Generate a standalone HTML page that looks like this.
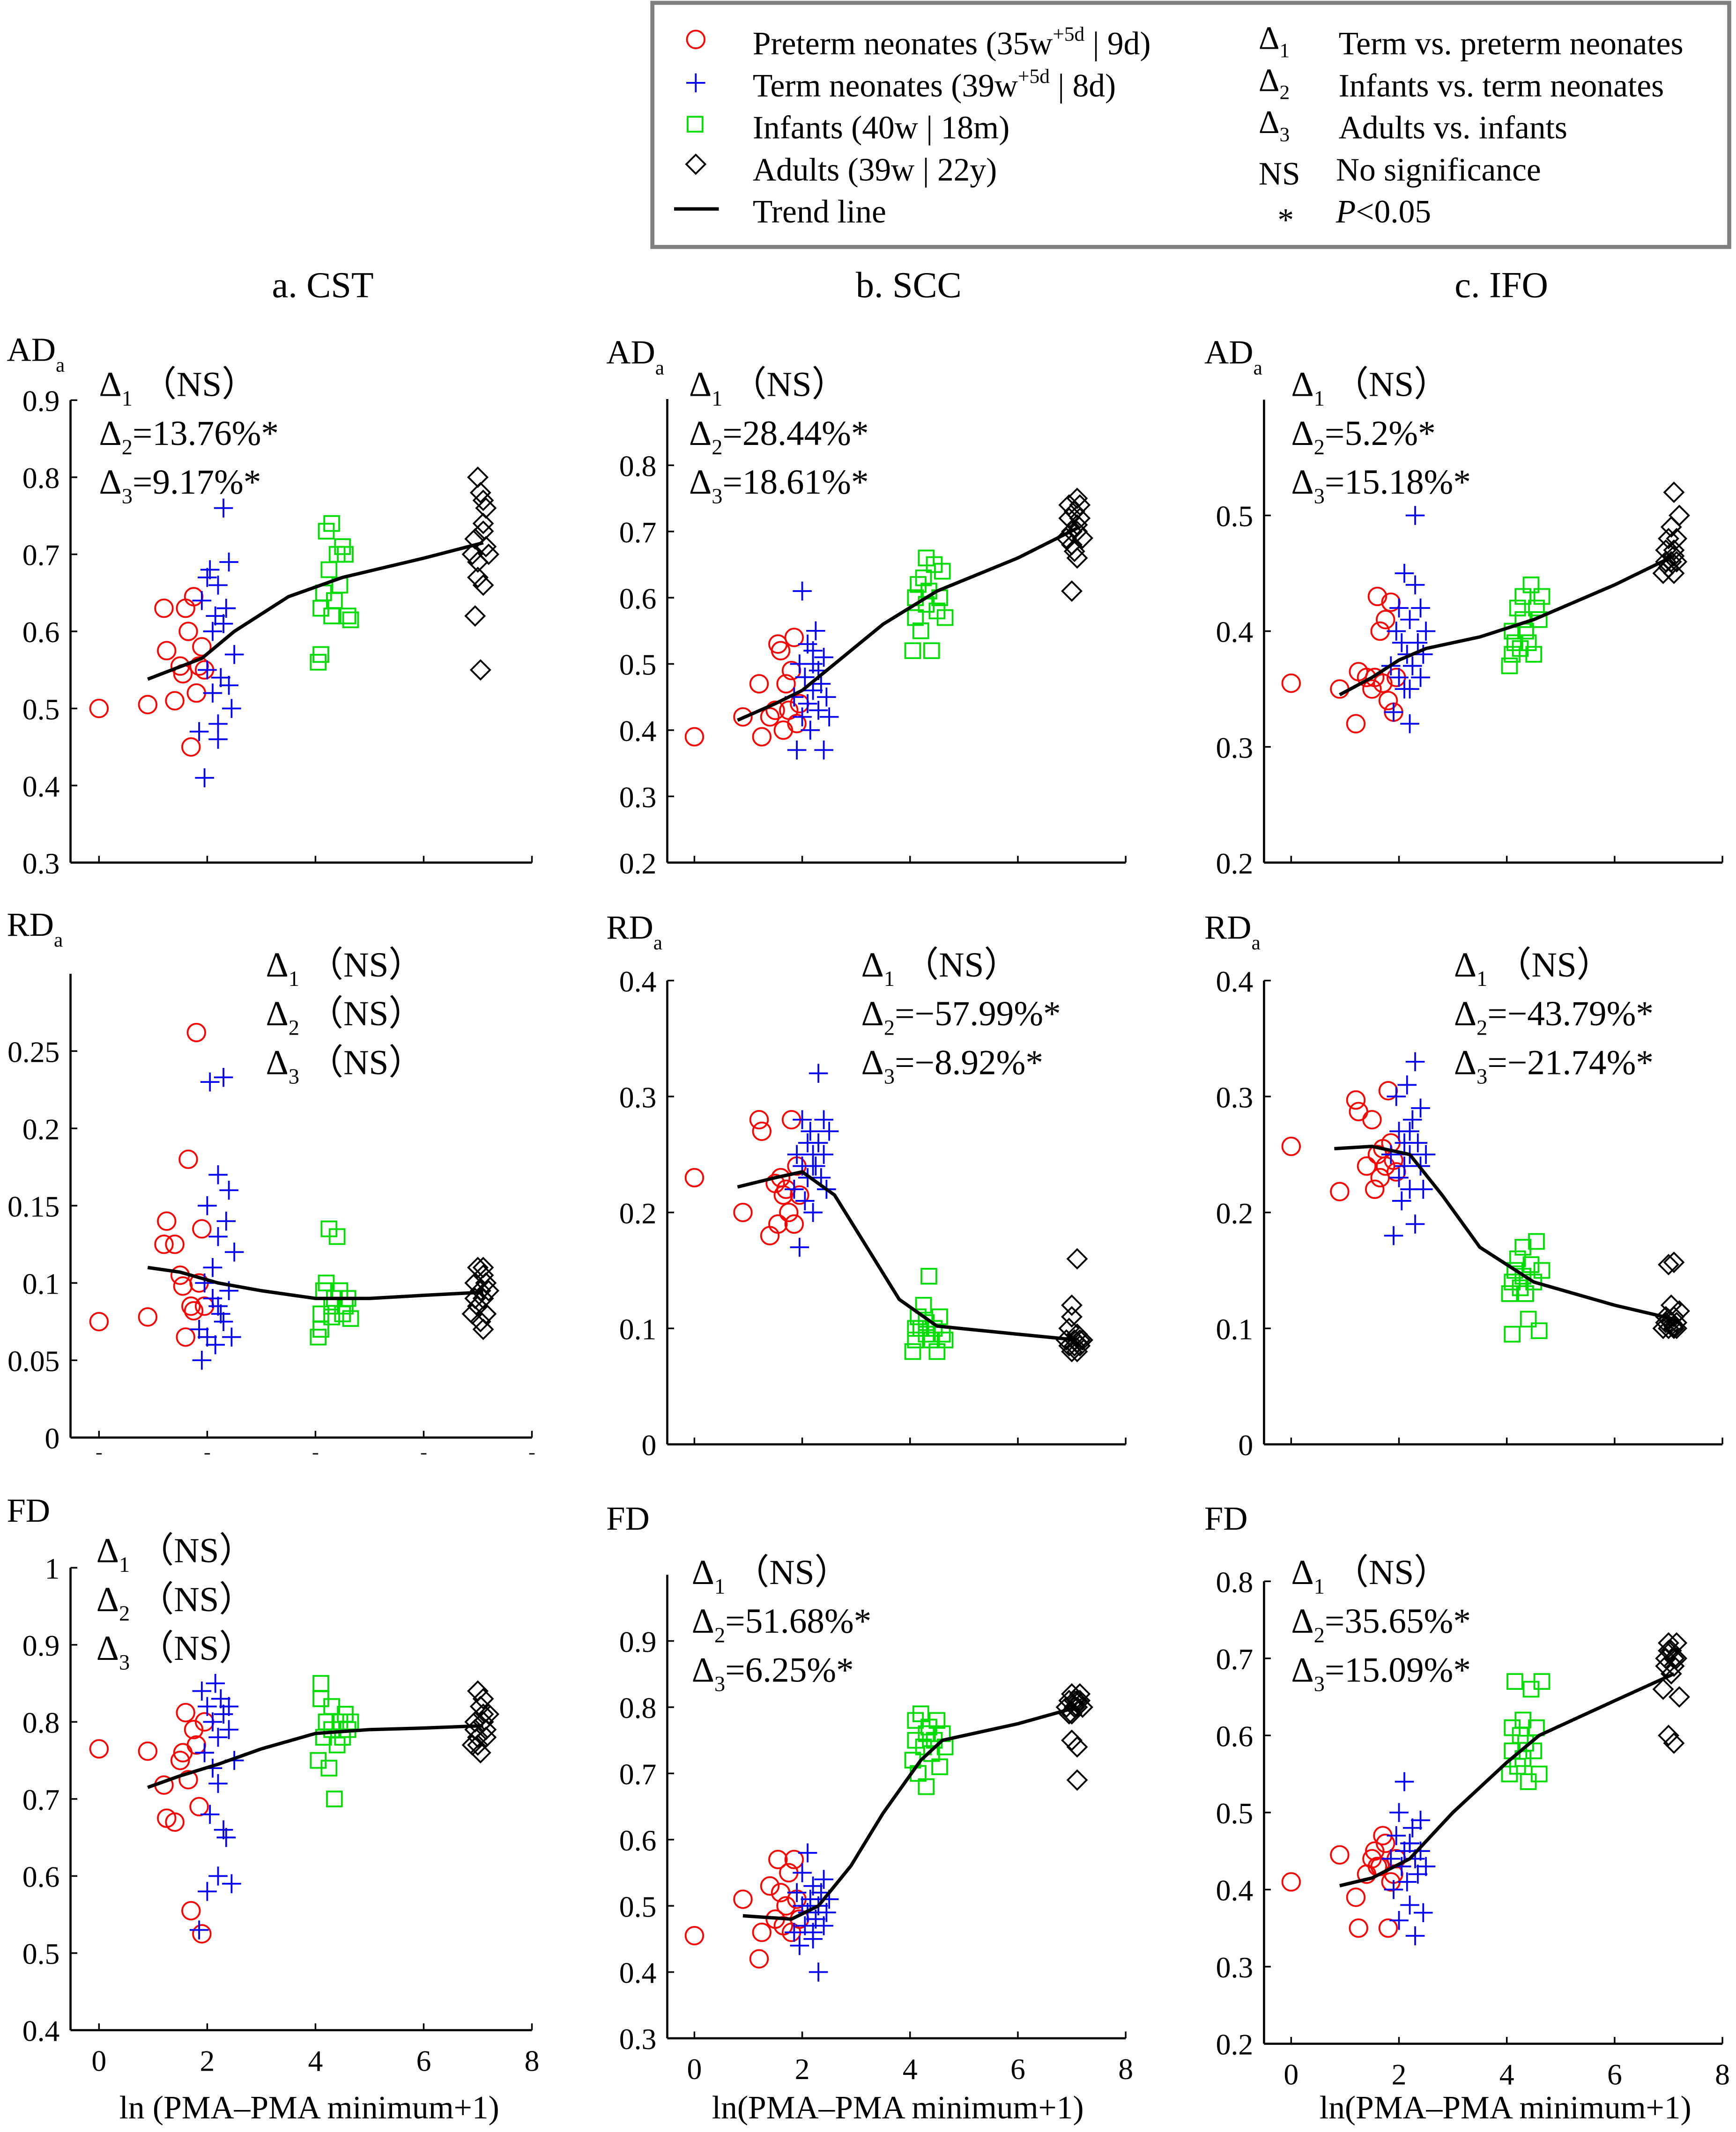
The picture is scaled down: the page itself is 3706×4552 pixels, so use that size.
<!DOCTYPE html>
<html><head><meta charset="utf-8"><style>
html,body{margin:0;padding:0;background:#fff}
svg{display:block}
text{font-family:"Liberation Serif",serif;fill:#000}
</style></head><body>
<svg id="fig" width="3706" height="4552" viewBox="0 0 1280 1572" xmlns="http://www.w3.org/2000/svg">
<g>
<rect x="481" y="2" width="794" height="180" fill="#fff" stroke="#808080" stroke-width="3"/>
<circle cx="513" cy="29" r="6.5" fill="none" stroke="#ff0000" stroke-width="1.3"/>
<path d="M506 61h14M513 54v14" stroke="#0000ff" stroke-width="1.3"/>
<rect x="507" y="86" width="11" height="11" fill="none" stroke="#00dd00" stroke-width="1.3"/>
<path d="M513 114l7 7l-7 7l-7-7z" fill="none" stroke="#000" stroke-width="1.3"/>
<path d="M497 154h33" stroke="#000" stroke-width="2.5"/>
<text x="555" y="40" font-size="24">Preterm neonates (35w<tspan dy="-10" font-size="15">+5d</tspan><tspan dy="10"> | 9d)</tspan></text>
<text x="555" y="71" font-size="24">Term neonates (39w<tspan dy="-10" font-size="15">+5d</tspan><tspan dy="10"> | 8d)</tspan></text>
<text x="555" y="102" font-size="24">Infants (40w | 18m)</text>
<text x="555" y="133" font-size="24">Adults (39w | 22y)</text>
<text x="555" y="164" font-size="24">Trend line</text>
<text x="928" y="36" font-size="24">Δ<tspan dy="6" font-size="15">1</tspan></text>
<text x="928" y="67" font-size="24">Δ<tspan dy="6" font-size="15">2</tspan></text>
<text x="928" y="98" font-size="24">Δ<tspan dy="6" font-size="15">3</tspan></text>
<text x="928" y="136" font-size="24">NS</text>
<text x="942" y="170" font-size="24">*</text>
<text x="987" y="40" font-size="24">Term vs. preterm neonates</text>
<text x="987" y="71" font-size="24">Infants vs. term neonates</text>
<text x="987" y="102" font-size="24">Adults vs. infants</text>
<text x="985" y="133" font-size="24">No significance</text>
<text x="985" y="164" font-size="24"><tspan font-style="italic">P</tspan>&lt;0.05</text>
</g>
<text x="238" y="219" font-size="27" text-anchor="middle">a. CST</text>
<text x="670" y="219" font-size="27" text-anchor="middle">b. SCC</text>
<text x="1107" y="219" font-size="27" text-anchor="middle">c. IFO</text>
<g id="plots"></g>
</svg>
<script>
const preX=[0,0.9,1.2,1.25,1.4,1.5,1.55,1.6,1.65,1.7,1.75,1.8,1.85,1.9,1.95];
const termX=[1.85,1.9,1.95,2.0,2.0,2.05,2.1,2.1,2.15,2.2,2.2,2.25,2.3,2.3,2.35,2.4,2.4,2.45,2.5,2.2];
const infX=[4.05,4.1,4.1,4.15,4.2,4.25,4.3,4.3,4.35,4.4,4.45,4.5,4.55,4.6,4.65];
const adX=[6.9,6.95,6.95,7.0,7.0,7.05,7.05,7.1,7.1,7.1,7.15,7.15,7.2,7.0,7.1];

const cstAD_pre=[0.50,0.505,0.63,0.575,0.51,0.555,0.545,0.63,0.60,0.45,0.645,0.52,0.555,0.58,0.55];
const cstAD_term=[0.47,0.64,0.41,0.67,0.55,0.68,0.52,0.60,0.62,0.46,0.66,0.54,0.76,0.61,0.63,0.53,0.69,0.50,0.57,0.48];
const cstAD_inf=[0.56,0.57,0.63,0.65,0.73,0.68,0.74,0.62,0.64,0.70,0.66,0.71,0.70,0.62,0.615];
const cstAD_ad=[0.70,0.72,0.62,0.80,0.69,0.78,0.55,0.77,0.74,0.66,0.76,0.71,0.70,0.67,0.73];
const cstAD_trendX=[0.9,1.9,2.5,3.5,4.5,6,7.1];
const cstAD_trendY=[0.538,0.565,0.6,0.645,0.67,0.695,0.715];

const sccAD_pre=[0.39,0.42,0.47,0.39,0.42,0.43,0.53,0.52,0.40,0.47,0.43,0.49,0.54,0.41,0.44];
const sccAD_term=[0.45,0.37,0.50,0.42,0.61,0.48,0.44,0.53,0.40,0.46,0.52,0.55,0.43,0.49,0.47,0.37,0.51,0.45,0.42,0.50];
const sccAD_inf=[0.52,0.60,0.57,0.62,0.55,0.63,0.59,0.66,0.61,0.52,0.65,0.58,0.60,0.64,0.57];
const sccAD_ad=[0.69,0.72,0.74,0.61,0.70,0.73,0.67,0.75,0.71,0.66,0.74,0.72,0.69,0.68,0.70];
const sccAD_trendX=[0.8,1.5,2,2.6,3.5,4.5,6,7.1];
const sccAD_trendY=[0.415,0.44,0.46,0.5,0.56,0.61,0.66,0.705];

const ifoAD_pre=[0.355,0.35,0.32,0.365,0.36,0.35,0.36,0.43,0.40,0.355,0.41,0.34,0.425,0.33,0.36];
const ifoAD_term=[0.37,0.33,0.40,0.36,0.42,0.39,0.35,0.45,0.38,0.41,0.32,0.37,0.50,0.44,0.39,0.36,0.42,0.38,0.40,0.35];
const ifoAD_inf=[0.37,0.38,0.40,0.39,0.42,0.385,0.41,0.43,0.40,0.39,0.44,0.38,0.42,0.41,0.43];
const ifoAD_ad=[0.45,0.46,0.47,0.455,0.48,0.46,0.49,0.45,0.47,0.52,0.46,0.48,0.50,0.455,0.465];
const ifoAD_trendX=[0.9,1.5,2,2.5,3.5,4.5,6,7.1];
const ifoAD_trendY=[0.345,0.36,0.375,0.385,0.395,0.41,0.44,0.465];

const cstRD_pre=[0.075,0.078,0.125,0.14,0.125,0.105,0.098,0.065,0.18,0.085,0.082,0.262,0.1,0.135,0.085];
const cstRD_term=[0.07,0.05,0.10,0.15,0.065,0.23,0.09,0.11,0.06,0.13,0.17,0.08,0.233,0.075,0.14,0.095,0.16,0.065,0.12,0.085];
const cstRD_inf=[0.065,0.07,0.08,0.095,0.1,0.135,0.085,0.078,0.09,0.13,0.095,0.08,0.085,0.09,0.077];
const cstRD_ad=[0.08,0.09,0.1,0.085,0.11,0.075,0.095,0.07,0.105,0.09,0.1,0.08,0.095,0.085,0.11];
const cstRD_trendX=[0.9,1.5,2.2,3,4,5,6,7.1];
const cstRD_trendY=[0.11,0.107,0.1,0.095,0.09,0.09,0.092,0.094];

const sccRD_pre=[0.23,0.20,0.28,0.27,0.18,0.225,0.19,0.23,0.215,0.22,0.20,0.28,0.19,0.24,0.215];
const sccRD_term=[0.22,0.25,0.17,0.24,0.28,0.21,0.26,0.23,0.27,0.25,0.20,0.24,0.32,0.26,0.23,0.28,0.25,0.22,0.27,0.24];
const sccRD_inf=[0.08,0.10,0.09,0.11,0.10,0.12,0.095,0.105,0.145,0.09,0.10,0.08,0.11,0.095,0.09];
const sccRD_ad=[0.09,0.085,0.1,0.08,0.12,0.09,0.085,0.16,0.095,0.08,0.09,0.085,0.09,0.11,0.088];
const sccRD_trendX=[0.8,1.5,2,2.6,3.2,3.8,4.5,6,7.1];
const sccRD_trendY=[0.222,0.23,0.235,0.215,0.17,0.125,0.102,0.095,0.09];

const ifoRD_pre=[0.257,0.218,0.297,0.287,0.24,0.28,0.22,0.25,0.23,0.255,0.24,0.305,0.26,0.245,0.235];
const ifoRD_term=[0.25,0.18,0.30,0.23,0.27,0.21,0.26,0.24,0.31,0.22,0.25,0.28,0.33,0.19,0.26,0.24,0.29,0.22,0.25,0.27];
const ifoRD_inf=[0.13,0.095,0.14,0.15,0.16,0.135,0.145,0.17,0.13,0.108,0.155,0.14,0.175,0.098,0.15];
const ifoRD_ad=[0.1,0.105,0.11,0.1,0.155,0.105,0.12,0.1,0.11,0.157,0.105,0.1,0.115,0.108,0.102];
const ifoRD_trendX=[0.8,1.5,2.2,2.8,3.5,4.5,6,7.1];
const ifoRD_trendY=[0.255,0.257,0.25,0.215,0.17,0.14,0.12,0.108];

const cstFD_pre=[0.765,0.762,0.718,0.675,0.67,0.75,0.76,0.812,0.725,0.555,0.79,0.77,0.69,0.525,0.8];
const cstFD_term=[0.53,0.84,0.76,0.58,0.82,0.68,0.80,0.74,0.85,0.60,0.78,0.83,0.66,0.81,0.65,0.79,0.82,0.59,0.75,0.72];
const cstFD_inf=[0.75,0.83,0.85,0.78,0.80,0.74,0.82,0.79,0.70,0.77,0.80,0.78,0.81,0.79,0.80];
const cstFD_ad=[0.77,0.79,0.80,0.84,0.78,0.82,0.76,0.81,0.80,0.83,0.79,0.78,0.81,0.77,0.80];
const cstFD_trendX=[0.9,1.5,2.2,3,4,5,6,7.1];
const cstFD_trendY=[0.715,0.73,0.745,0.765,0.785,0.79,0.792,0.795];

const sccFD_pre=[0.455,0.51,0.42,0.46,0.53,0.48,0.57,0.52,0.47,0.50,0.55,0.46,0.57,0.51,0.48];
const sccFD_term=[0.46,0.52,0.44,0.50,0.55,0.47,0.49,0.58,0.51,0.45,0.53,0.48,0.50,0.40,0.52,0.47,0.54,0.49,0.51,0.46];
const sccFD_inf=[0.72,0.75,0.78,0.70,0.79,0.74,0.76,0.68,0.77,0.73,0.75,0.78,0.71,0.76,0.74];
const sccFD_ad=[0.80,0.81,0.79,0.82,0.75,0.80,0.81,0.69,0.80,0.74,0.82,0.81,0.80,0.79,0.81];
const sccFD_trendX=[0.9,1.8,2.3,2.9,3.5,4.2,4.6,6,7.1];
const sccFD_trendY=[0.485,0.48,0.5,0.56,0.64,0.72,0.75,0.775,0.8];

const ifoFD_pre=[0.41,0.445,0.39,0.35,0.42,0.44,0.45,0.43,0.43,0.47,0.46,0.35,0.41,0.42,0.44];
const ifoFD_term=[0.44,0.40,0.47,0.36,0.50,0.43,0.45,0.54,0.41,0.46,0.38,0.48,0.34,0.44,0.42,0.49,0.45,0.37,0.43,0.46];
const ifoFD_inf=[0.55,0.58,0.61,0.67,0.56,0.60,0.57,0.62,0.59,0.54,0.66,0.58,0.61,0.55,0.67];
const ifoFD_ad=[0.66,0.69,0.70,0.72,0.60,0.68,0.71,0.59,0.70,0.69,0.72,0.70,0.65,0.71,0.69];
const ifoFD_trendX=[0.9,1.5,2.2,3,4,4.6,6,7.1];
const ifoFD_trendY=[0.405,0.415,0.44,0.5,0.565,0.6,0.645,0.68];

const xTicks=[0,2,4,6,8];
const tickAD_cst=["0.3","0.4","0.5","0.6","0.7","0.8","0.9"];
const tickAD_scc=["0.2","0.3","0.4","0.5","0.6","0.7","0.8"];
const tickAD_ifo=["0.2","0.3","0.4","0.5"];
const tickRD_cst=["0","0.05","0.1","0.15","0.2","0.25"];
const tickRD_scc=["0","0.1","0.2","0.3","0.4"];
const tickFD_cst=["0.4","0.5","0.6","0.7","0.8","0.9","1"];
const tickFD_scc=["0.3","0.4","0.5","0.6","0.7","0.8","0.9"];
const tickFD_ifo=["0.2","0.3","0.4","0.5","0.6","0.7","0.8"];

const NS="http://www.w3.org/2000/svg";
const root=document.getElementById('plots');
function mk(tag,attrs,parent){const e=document.createElementNS(NS,tag);for(const k in attrs)e.setAttribute(k,attrs[k]);parent.appendChild(e);return e;}

const panels=[
 {id:'cst-ad',ax:52,x0:73,pux:39.9,yb:636,vmin:0.3,y1:295,v1:0.9,top:0.9,ticks:tickAD_cst,d:[cstAD_pre,cstAD_term,cstAD_inf,cstAD_ad],tx:cstAD_trendX,ty:cstAD_trendY,lab:['AD','a'],lx:5,ly:266,ann:['(NS)','=13.76%*','=9.17%*'],annX:73,annY:292,xl:false},
 {id:'scc-ad',ax:492,x0:512,pux:39.75,yb:636,vmin:0.2,y1:343,v1:0.8,top:0.9,ticks:tickAD_scc,d:[sccAD_pre,sccAD_term,sccAD_inf,sccAD_ad],tx:sccAD_trendX,ty:sccAD_trendY,lab:['AD','a'],lx:447,ly:268,ann:['(NS)','=28.44%*','=18.61%*'],annX:508,annY:292,xl:false},
 {id:'ifo-ad',ax:932,x0:952,pux:39.75,yb:636,vmin:0.2,y1:380,v1:0.5,top:0.6,ticks:tickAD_ifo,d:[ifoAD_pre,ifoAD_term,ifoAD_inf,ifoAD_ad],tx:ifoAD_trendX,ty:ifoAD_trendY,lab:['AD','a'],lx:888,ly:268,ann:['(NS)','=5.2%*','=15.18%*'],annX:952,annY:292,xl:false},
 {id:'cst-rd',ax:52,x0:73,pux:39.9,yb:1060,vmin:0,y1:775,v1:0.25,top:0.3,ticks:tickRD_cst,d:[cstRD_pre,cstRD_term,cstRD_inf,cstRD_ad],tx:cstRD_trendX,ty:cstRD_trendY,lab:['RD','a'],lx:5,ly:690,ann:['(NS)','(NS)','(NS)'],annX:196,annY:720,xl:false},
 {id:'scc-rd',ax:492,x0:512,pux:39.75,yb:1065,vmin:0,y1:723,v1:0.4,top:0.4,ticks:tickRD_scc,d:[sccRD_pre,sccRD_term,sccRD_inf,sccRD_ad],tx:sccRD_trendX,ty:sccRD_trendY,lab:['RD','a'],lx:447,ly:692,ann:['(NS)','=−57.99%*','=−8.92%*'],annX:635,annY:720,xl:false},
 {id:'ifo-rd',ax:932,x0:952,pux:39.75,yb:1065,vmin:0,y1:723,v1:0.4,top:0.4,ticks:tickRD_scc,d:[ifoRD_pre,ifoRD_term,ifoRD_inf,ifoRD_ad],tx:ifoRD_trendX,ty:ifoRD_trendY,lab:['RD','a'],lx:888,ly:692,ann:['(NS)','=−43.79%*','=−21.74%*'],annX:1072,annY:720,xl:false},
 {id:'cst-fd',ax:52,x0:73,pux:39.9,yb:1497,vmin:0.4,y1:1156,v1:1.0,top:1.0,ticks:tickFD_cst,d:[cstFD_pre,cstFD_term,cstFD_inf,cstFD_ad],tx:cstFD_trendX,ty:cstFD_trendY,lab:['FD',''],lx:5,ly:1122,ann:['(NS)','(NS)','(NS)'],annX:71,annY:1152,xl:true,xt:'ln (PMA–PMA minimum+1)',xtc:228},
 {id:'scc-fd',ax:492,x0:512,pux:39.75,yb:1503,vmin:0.3,y1:1210,v1:0.9,top:1.0,ticks:tickFD_scc,d:[sccFD_pre,sccFD_term,sccFD_inf,sccFD_ad],tx:sccFD_trendX,ty:sccFD_trendY,lab:['FD',''],lx:447,ly:1128,ann:['(NS)','=51.68%*','=6.25%*'],annX:510,annY:1168,xl:true,xt:'ln(PMA–PMA minimum+1)',xtc:662},
 {id:'ifo-fd',ax:932,x0:952,pux:39.75,yb:1507,vmin:0.2,y1:1166,v1:0.8,top:0.8,ticks:tickFD_ifo,d:[ifoFD_pre,ifoFD_term,ifoFD_inf,ifoFD_ad],tx:ifoFD_trendX,ty:ifoFD_trendY,lab:['FD',''],lx:888,ly:1128,ann:['(NS)','=35.65%*','=15.09%*'],annX:952,annY:1168,xl:true,xt:'ln(PMA–PMA minimum+1)',xtc:1110}
];
const xsets=[preX,termX,infX,adX];
const gnames=['preterm','term','infant','adult'];

panels.forEach(p=>{
 const g=mk('g',{},root);
 
 
 const sy=v=>p.yb-(v-p.vmin)*(p.yb-p.y1)/(p.v1-p.vmin);
 const sx=v=>p.x0+v*p.pux;
 const right=sx(8);
 const yTop=sy(p.top);
 const yax=mk('path',{d:`M${p.ax} ${yTop}V${p.yb}`,stroke:'#000','stroke-width':1.6,fill:'none'},g);
 
 
 const xax=mk('path',{d:`M${p.ax} ${p.yb}H${right}`,stroke:'#000','stroke-width':1.6,fill:'none'},g);
 
 
 p.ticks.forEach(t=>{
  const y=sy(parseFloat(t));
  mk('path',{d:`M${p.ax} ${y}h5`,stroke:'#000','stroke-width':1.2},g);
  const tl=mk('text',{x:p.ax-8,y:y+8,'font-size':22,'text-anchor':'end'},g);
  tl.textContent=t;
  
  
 });
 xTicks.forEach(t=>{
  const x=sx(t);
  mk('path',{d:`M${x} ${p.yb}v-5`,stroke:'#000','stroke-width':1.2},g);
  if(p.xl){
   const tl=mk('text',{x:x,y:p.yb+30,'font-size':22,'text-anchor':'middle'},g);
   tl.textContent=String(t);
   
   
  } else if(p.id==='cst-rd'){
   mk('path',{d:`M${x-2} ${p.yb+12}h4`,stroke:'#000','stroke-width':1},g);
  }
 });
 if(p.xl){
  const xt=mk('text',{x:p.xtc,y:1562,'font-size':24,'text-anchor':'middle'},g);
  xt.textContent=p.xt;
  
  
 }
 const lab=mk('text',{x:p.lx,y:p.ly,'font-size':25},g);
 lab.textContent=p.lab[0];
 
 
 if(p.lab[1]){const s=mk('tspan',{dy:8,'font-size':15},lab);s.textContent=p.lab[1];}
 p.ann.forEach((a,i)=>{
  const t=mk('text',{x:p.annX,y:p.annY+i*36,'font-size':26},g);
  
  
  t.appendChild(document.createTextNode('Δ'));
  const s=mk('tspan',{dy:7,'font-size':16},t);s.textContent=String(i+1);
  const r=mk('tspan',{dy:-7},t);
  r.textContent=a.startsWith('(')?' （NS）':a;
 });
 p.d.forEach((ys,gi)=>{
  const xs=xsets[gi];
  ys.forEach((v,i)=>{
   const x=sx(xs[i]),y=sy(v);
   let m;
   if(gi===0)m=mk('circle',{cx:x,cy:y,r:6.5,fill:'none',stroke:'#ff0000','stroke-width':1.3},g);
   else if(gi===1)m=mk('path',{d:`M${x-7} ${y}h14M${x} ${y-7}v14`,stroke:'#0000ff','stroke-width':1.3},g);
   else if(gi===2)m=mk('rect',{x:x-5.5,y:y-5.5,width:11,height:11,fill:'none',stroke:'#00dd00','stroke-width':1.3},g);
   else m=mk('path',{d:`M${x} ${y-7}l7 7l-7 7l-7-7z`,fill:'none',stroke:'#000','stroke-width':1.3},g);
   
   
  });
 });
 const pts=p.tx.map((v,i)=>sx(v)+','+sy(p.ty[i])).join(' ');
 const tl=mk('polyline',{points:pts,fill:'none',stroke:'#000','stroke-width':2.5},g);
 
 
});
</script>
</body></html>
